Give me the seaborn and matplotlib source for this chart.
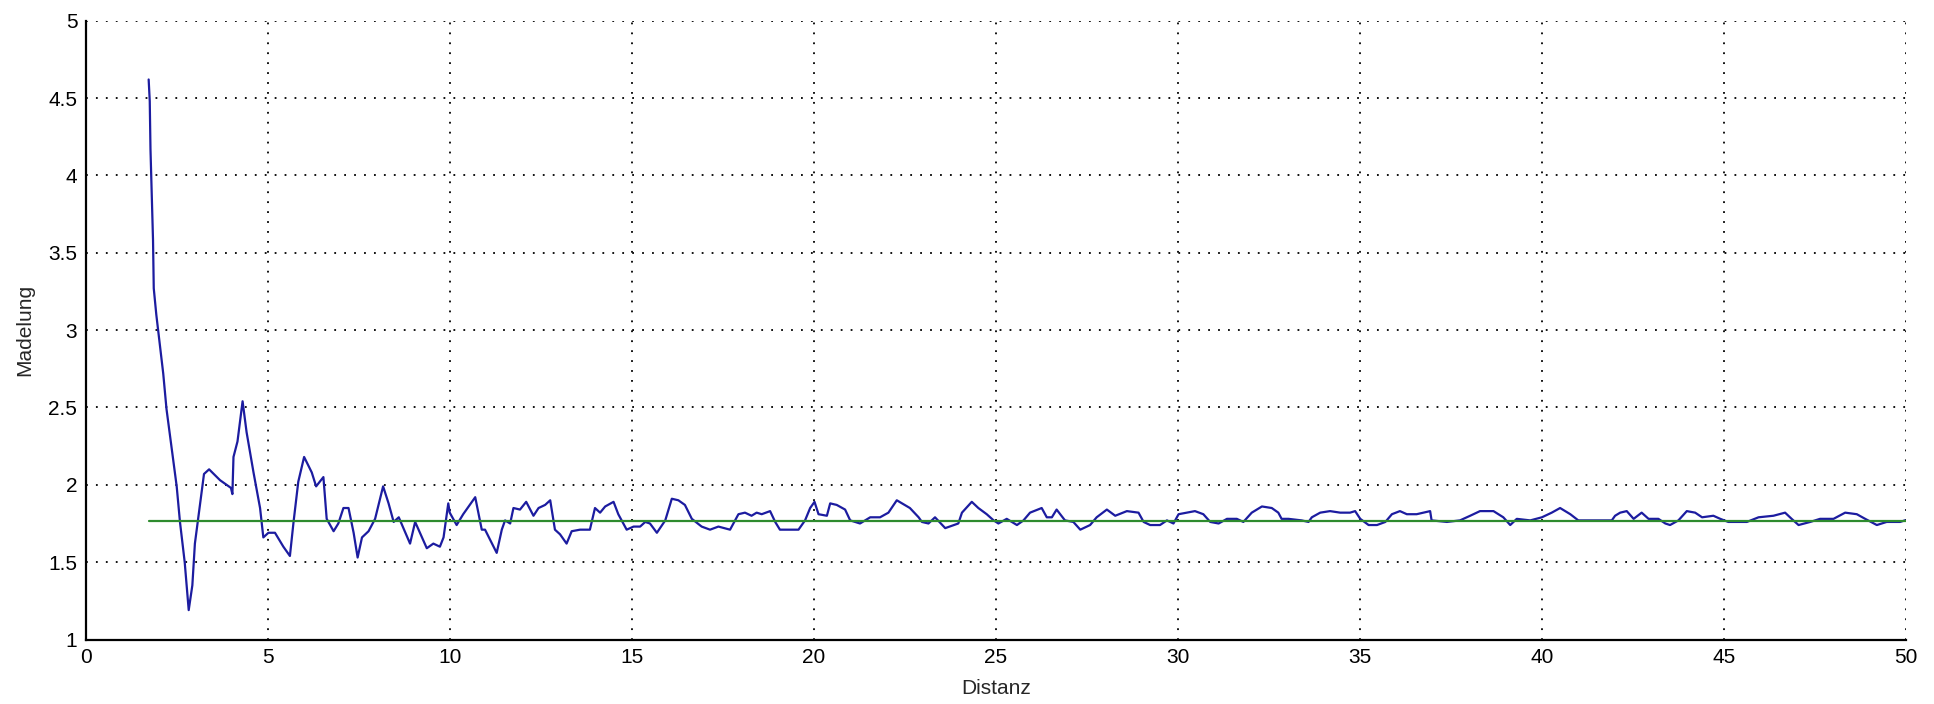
import numpy as np
import pandas as pd
import matplotlib
matplotlib.use("Agg")
import matplotlib.pyplot as plt
import seaborn as sns

# Werte
distanz = [
    1.73, 1.76, 1.78, 1.85, 1.87, 1.94, 2.13, 2.22, 2.40, 2.50, 2.59, 2.72, 2.83, 2.93, 3.00,
    3.11, 3.25, 3.39, 3.69, 3.99, 4.03, 4.06, 4.17, 4.31, 4.42, 4.61, 4.79, 4.88, 5.02, 5.20,
    5.43, 5.61, 5.71, 5.84, 6.00, 6.21, 6.33, 6.53, 6.62, 6.81, 6.94, 7.08, 7.22, 7.36, 7.47,
    7.59, 7.77, 7.95, 8.17, 8.32, 8.46, 8.60, 8.91, 9.05, 9.37, 9.55, 9.73, 9.83, 9.96, 10.00,
    10.19, 10.37, 10.70, 10.88, 10.97, 11.29, 11.43, 11.52, 11.66, 11.75, 11.93, 12.10, 12.30,
    12.44, 12.62, 12.76, 12.89, 13.03, 13.21, 13.35, 13.58, 13.85, 13.99, 14.13, 14.27, 14.50,
    14.63, 14.86, 15.05, 15.23, 15.37, 15.50, 15.69, 15.92, 16.10, 16.28, 16.46, 16.65, 16.92,
    17.15, 17.38, 17.70, 17.93, 18.11, 18.29, 18.43, 18.57, 18.80, 18.94, 19.07, 19.58, 19.76,
    19.90, 20.02, 20.13, 20.36, 20.45, 20.63, 20.86, 21.00, 21.27, 21.55, 21.82, 22.05, 22.28,
    22.64, 22.88, 22.97, 23.15, 23.33, 23.61, 23.97, 24.07, 24.34, 24.52, 24.75, 24.94, 25.07,
    25.30, 25.58, 25.76, 25.94, 26.26, 26.40, 26.54, 26.67, 26.90, 27.13, 27.32, 27.59, 27.77,
    28.05, 28.28, 28.60, 28.92, 29.06, 29.24, 29.51, 29.70, 29.88, 30.02, 30.25, 30.47, 30.70,
    30.89, 31.12, 31.35, 31.62, 31.80, 32.03, 32.31, 32.58, 32.76, 32.85, 33.04, 33.40, 33.59,
    33.68, 33.91, 34.18, 34.46, 34.73, 34.87, 35.01, 35.24, 35.47, 35.70, 35.88, 36.10, 36.29,
    36.56, 36.75, 36.93, 36.97, 37.39, 37.75, 38.03, 38.30, 38.67, 38.94, 39.13, 39.31, 39.68,
    40.00, 40.27, 40.50, 40.78, 41.00, 41.23, 41.60, 41.92, 42.01, 42.15, 42.33, 42.52, 42.74,
    42.93, 43.20, 43.39, 43.52, 43.75, 43.98, 44.21, 44.40, 44.71, 44.90, 45.12, 45.63, 45.95,
    46.36, 46.68, 46.86, 47.05, 47.37, 47.64, 48.01, 48.33, 48.65, 48.88, 49.20, 49.47, 49.84,
    49.97,
]
madelung = [
    4.62, 4.48, 4.17, 3.58, 3.27, 3.10, 2.72, 2.49, 2.17, 1.99, 1.76, 1.50, 1.19, 1.35, 1.62,
    1.82, 2.07, 2.10, 2.03, 1.98, 1.94, 2.18, 2.28, 2.54, 2.34, 2.08, 1.85, 1.66, 1.69, 1.69,
    1.60, 1.54, 1.76, 2.02, 2.18, 2.08, 1.99, 2.05, 1.78, 1.70, 1.75, 1.85, 1.85, 1.69, 1.53,
    1.66, 1.70, 1.78, 1.99, 1.88, 1.76, 1.79, 1.62, 1.76, 1.59, 1.62, 1.60, 1.66, 1.88, 1.82,
    1.74, 1.81, 1.92, 1.71, 1.71, 1.56, 1.71, 1.77, 1.75, 1.85, 1.84, 1.89, 1.80,
    1.85, 1.87, 1.90, 1.71, 1.68, 1.62, 1.70, 1.71, 1.71, 1.85, 1.82, 1.86, 1.89,
    1.81, 1.71, 1.73, 1.73, 1.76, 1.75, 1.69, 1.77, 1.91, 1.90, 1.87, 1.78, 1.73,
    1.71, 1.73, 1.71, 1.81, 1.82, 1.80, 1.82, 1.81, 1.83, 1.76, 1.71, 1.71, 1.77,
    1.85, 1.89, 1.81, 1.80, 1.88, 1.87, 1.84, 1.77, 1.75, 1.79, 1.79, 1.82, 1.90,
    1.85, 1.79, 1.76, 1.75, 1.79, 1.72, 1.75, 1.82, 1.89, 1.85, 1.81, 1.77, 1.75,
    1.78, 1.74, 1.77, 1.82, 1.85, 1.79, 1.79, 1.84, 1.77, 1.76, 1.71, 1.74, 1.79,
    1.84, 1.80, 1.83, 1.82, 1.76, 1.74, 1.74, 1.77, 1.75, 1.81, 1.82, 1.83, 1.81,
    1.76, 1.75, 1.78, 1.78, 1.76, 1.82, 1.86, 1.85, 1.82, 1.78, 1.78, 1.77, 1.76,
    1.79, 1.82, 1.83, 1.82, 1.82, 1.83, 1.78, 1.74, 1.74, 1.76, 1.81, 1.83, 1.81,
    1.81, 1.82, 1.83, 1.77, 1.76, 1.77, 1.80, 1.83, 1.83, 1.79, 1.74, 1.78, 1.77,
    1.79, 1.82, 1.85, 1.81, 1.77, 1.77, 1.77, 1.77, 1.80, 1.82, 1.83, 1.78, 1.82,
    1.78, 1.78, 1.75, 1.74, 1.77, 1.83, 1.82, 1.79, 1.80, 1.78, 1.76, 1.76, 1.79,
    1.80, 1.82, 1.78, 1.74, 1.76, 1.78, 1.78, 1.82, 1.81, 1.78, 1.74, 1.76, 1.76,
    1.77,
]
grenzwert = 1.765  # gruene Linie (Madelung-Konstante)

df = pd.DataFrame({"Distanz": distanz, "Madelung": madelung})

sns.set_style("white")
plt.rcParams["font.family"] = ["Liberation Sans", "DejaVu Sans"]

fig = plt.figure(figsize=(19.34, 7.04), dpi=100)
ax = fig.add_axes([0.0443, 0.0916, 0.9412, 0.879])

sns.lineplot(data=df, x="Distanz", y="Madelung", ax=ax, color="#1c1ca0",
             linewidth=1.6, estimator=None, sort=False)
ax.plot([distanz[0], 50], [grenzwert, grenzwert], color="#2e8b2e", linewidth=1.6)

ax.set_xlim(0, 50)
ax.set_ylim(1, 5)
ax.set_xticks(np.arange(0, 51, 5))
ax.set_yticks(np.arange(1, 5.01, 0.5))
ax.set_yticklabels(["1", "1.5", "2", "2.5", "3", "3.5", "4", "4.5", "5"])

ax.grid(True, color="black", linestyle=(0, (1, 4.5)), linewidth=1.3)
ax.spines["top"].set_visible(False)
ax.spines["right"].set_visible(False)
for s in ["left", "bottom"]:
    ax.spines[s].set_color("black")
    ax.spines[s].set_linewidth(1.6)

ax.tick_params(axis="both", direction="in", colors="black", labelsize=15, width=1.6)
ax.tick_params(axis="y", length=12, pad=6)
ax.tick_params(axis="x", length=13, pad=6)

ax.set_xlabel("Distanz", fontsize=15, labelpad=9)
ax.set_ylabel("Madelung", fontsize=15, labelpad=10)

fig.savefig("out.png", dpi=100, facecolor="white")
